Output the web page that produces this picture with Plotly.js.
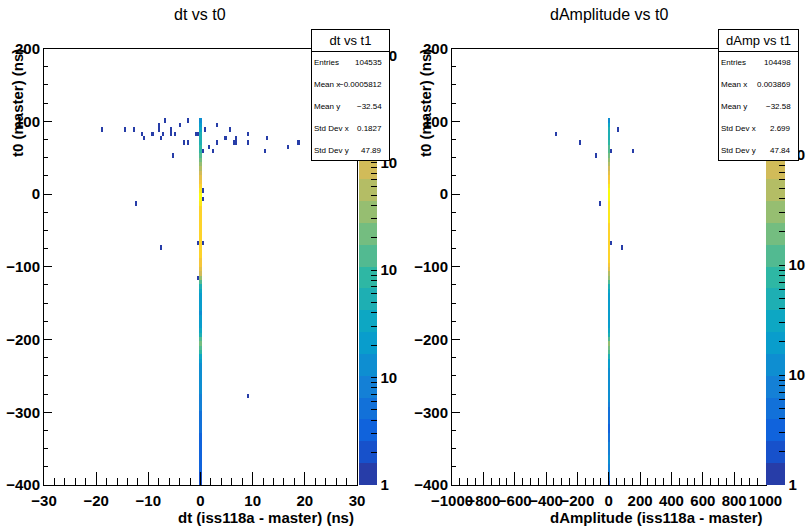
<!DOCTYPE html>
<html><head><meta charset="utf-8">
<script src="https://cdn.plot.ly/plotly-3.0.1.min.js"></script>
<style>html,body{margin:0;padding:0;background:#fff}#plot{width:808px;height:527px}</style>
</head><body><div id="plot"></div><script>
// ---------- DATA ----------
// y bin centres of the central column start at 101 and step down by 6 ns
const columnTopY = 101;
const dtColumnCounts = [15,25,35,45,50,60,70,90,120,200,
  300,700,1100,1500,2200,4000,7000,11700,9000,5500,
  4500,4300,4000,3800,3700,3500,3500,3400,3300,3200,
  3100,2900,2700,2400,1500,900,300,120,60,30,
  22,20,18,18,16,18,20,25,30,60,
  120,180,150,80,30,20,16,15,14,13,
  12,12,11,10,9,8,7,6,6,5,
  5,5,4,4,4,4,3,3,3,3,
  3,2,2,2];
const dampColumnCounts = [12,30,40,50,60,80,100,130,200,300,
  450,900,1300,1800,2500,5000,8000,9400,7000,5000,
  4500,4200,4000,3800,3600,3500,3400,3300,3200,3100,
  3000,2800,2500,2200,1300,600,250,120,60,30,
  22,20,18,17,16,17,18,20,25,50,
  150,250,200,120,40,20,16,15,14,13,
  12,12,11,10,10,9,6,5,4,4,
  3,3,4,5,7,8,9,10,10,9,
  9,8,4,2];
// isolated entries
const dtOutX = [-18.8,-14.4,-12.8,-11.2,-10.8,-9.2,-8.0,-8.0,-7.6,-7.2,-6.8,-5.6,-5.6,-5.2,-4.8,-4.0,-3.2,-2.4,-2.4,-0.8,-0.4,
  0.8,0.4,1.6,2.4,3.2,3.2,4.8,5.6,6.8,6.4,6.8,9.2,9.2,12.8,12.4,16.8,18.8,
  -12.4,-7.6,-0.4,0.4,0.4,0.4,-0.4,9.2];
const dtOutY = [89,89,89,83,77,83,95,89,77,83,101,89,83,53,83,95,71,71,101,83,83,
  89,59,65,59,95,71,77,89,77,71,71,83,71,77,59,65,71,
  -13,-71,-67,-67,5,-7,-115,-277];
const dtOutN = [1,1,1,1,1,1,1,1,1,1,1,1,1,1,1,1,1,1,1,1,1,
  1,1,1,1,1,1,1,1,1,1,1,1,1,1,1,1,1,
  1,1,1,1,1,1,1,1];
const dampOutX = [-337.5,-175,-87.5,62.5,14,150,-62.5,14,87.5];
const dampOutY = [83,71,53,89,59,59,-13,-67,-71];
const dampOutN = [1,1,1,1,1,1,1,1,1];
const dtStats = [["Entries","104535"],["Mean x","\u22120.0005812"],["Mean y","\u221232.54"],["Std Dev x","0.1827"],["Std Dev y","47.89"]];
const dampStats = [["Entries","104498"],["Mean x","0.003869"],["Mean y","\u221232.58"],["Std Dev x","2.699"],["Std Dev y","47.84"]];
const dtMax = 11700, dampMax = 9400;

// ---------- BINNING ----------
const W = 808, H = 527;
const X = p => p / W, Y = p => 1 - p / H;
function centres(a, b, step){ const r=[]; const n=Math.round((b-a)/step); for(let i=0;i<=n;i++) r.push(+(a+i*step).toFixed(4)); return r; }
const yC = centres(-397, 197, 6);
const dtXC = centres(-30, 30, 0.4);
const dampXC = centres(-994, 994, 14);

function buildZ(xc, colCounts, ox, oy, on){
  const z = yC.map(() => xc.map(() => null));
  const xi = v => { let best=0; xc.forEach((c,i)=>{ if(Math.abs(c-v)<Math.abs(xc[best]-v)) best=i; }); return best; };
  const yi = v => { let best=0; yC.forEach((c,i)=>{ if(Math.abs(c-v)<Math.abs(yC[best]-v)) best=i; }); return best; };
  const x0 = xi(0);
  colCounts.forEach((n,k) => { z[yi(columnTopY - 6*k)][x0] = Math.log10(n); });
  ox.forEach((v,k) => { z[yi(oy[k])][xi(v)] = Math.log10(on[k]); });
  return z;
}

// ROOT kBird palette
const birdStops = [[0.0,[0.2082,0.1664,0.5293]],[0.125,[0.0592,0.3599,0.8684]],[0.25,[0.0780,0.5041,0.8385]],
  [0.375,[0.0232,0.6419,0.7914]],[0.5,[0.1802,0.7178,0.6425]],[0.625,[0.5301,0.7492,0.4662]],
  [0.75,[0.8186,0.7328,0.3499]],[0.875,[0.9956,0.7862,0.1968]],[1.0,[0.9764,0.9832,0.0539]]];
function bird(f){
  for(let i=0;i<birdStops.length-1;i++){
    const [a,ca]=birdStops[i],[b,cb]=birdStops[i+1];
    if(f>=a && f<=b){ const t=(f-a)/(b-a); const c=ca.map((v,j)=>Math.round(255*(v+(cb[j]-v)*t))); return `rgb(${c[0]},${c[1]},${c[2]})`; }
  }
  return 'rgb(249,251,14)';
}
const nLev = 20, cs = [];
for(let c=0;c<nLev;c++){ const col = bird(Math.floor((c+0.99)*255/nLev)/254); cs.push([c/nLev,col]); cs.push([(c+1)/nLev,col]); }

function cbTicks(max){
  const v=[], t=[];
  for(let d=0; d<=Math.floor(max); d++){
    for(let m=1;m<=9;m++){ const l=d+Math.log10(m); if(l<=max+1e-9){ v.push(l); t.push(m===1 ? (d===0?'1':'10') : ''); } }
  }
  return {v,t};
}

const FONT = "Liberation Sans, Arial, Helvetica, sans-serif";
const bold15 = {family: FONT, size: 15, color: '#000', weight: 'bold'};

function mkCb(xpx, thick, max){
  const tk = cbTicks(max);
  return {x: X(xpx), xanchor: 'left', xpad: 0, ypad: 0, thickness: thick, thicknessmode: 'pixels',
    len: (485-48.5)/H, lenmode: 'fraction', y: Y(485), yanchor: 'bottom',
    outlinewidth: 0, ticks: 'inside', ticklen: 6, tickcolor: '#000', tickwidth: 1,
    tickmode: 'array', tickvals: tk.v, ticktext: tk.t, tickfont: bold15, ticklabelpad: 2};
}

const traces = [
  {type:'heatmap', x: dtXC, y: yC, z: buildZ(dtXC, dtColumnCounts, dtOutX, dtOutY, dtOutN),
   zmin: 0, zmax: Math.log10(dtMax), colorscale: cs, zsmooth: false, hoverinfo: 'skip',
   xaxis: 'x', yaxis: 'y', colorbar: mkCb(359, 18, Math.log10(dtMax))},
  {type:'heatmap', x: dampXC, y: yC, z: buildZ(dampXC, dampColumnCounts, dampOutX, dampOutY, dampOutN),
   zmin: 0, zmax: Math.log10(dampMax), colorscale: cs, zsmooth: false, hoverinfo: 'skip',
   xaxis: 'x2', yaxis: 'y2', colorbar: mkCb(766, 19, Math.log10(dampMax))}
];

function xAx(domain, range, dtick, minor){
  return {domain, range, dtick, tick0: 0, tickmode: 'linear', ticks: 'inside', ticklen: 13, tickcolor: '#000',
    minor: {dtick: minor, ticks: 'inside', ticklen: 7, tickcolor: '#000'},
    showline: true, mirror: true, linecolor: '#000', linewidth: 1, showgrid: false, zeroline: false,
    tickfont: bold15, tickangle: 0, ticklabelstandoff: 2, fixedrange: true};
}
function yAx(anchor){
  return {domain: [Y(485), Y(48.5)], range: [-400, 200], dtick: 100, tick0: 0, tickmode: 'linear', anchor,
    ticks: 'inside', ticklen: 8, tickcolor: '#000',
    minor: {dtick: 25, ticks: 'inside', ticklen: 4, tickcolor: '#000'},
    showline: true, mirror: true, linecolor: '#000', linewidth: 1, showgrid: false, zeroline: false,
    tickfont: bold15, fixedrange: true};
}

const ann = [];
function txt(text, xpx, ypx, xa, ya, font, extra){ ann.push(Object.assign({text, x: X(xpx), y: Y(ypx), xref:'paper', yref:'paper', xanchor: xa, yanchor: ya, showarrow: false, font}, extra||{})); }
const reg16 = {family: FONT, size: 16, color: '#000'};
txt('dt vs t0', 200, 14, 'center', 'middle', reg16);
txt('dAmplitude vs t0', 609, 14, 'center', 'middle', reg16);
txt('dt (iss118a - master) (ns)', 356, 517, 'right', 'middle', bold15);
txt('dAmplitude (iss118a - master)', 765, 517, 'right', 'middle', bold15);
txt('t0 (master) (ns)', 17, 47, 'center', 'top', bold15, {textangle: -90});
txt('t0 (master) (ns)', 425, 47, 'center', 'top', bold15, {textangle: -90});

function statsBox(title, rows, left, right){
  const w = right - left;
  txt('\u00a0', left, 29, 'left', 'top', {family: FONT, size: 9}, {width: w-1, height: 130, bgcolor: '#fff', bordercolor: '#000', borderwidth: 1, borderpad: 0});
  txt(title, left, 29, 'left', 'top', {family: FONT, size: 13, color: '#000'}, {width: w-1, height: 21, bgcolor: '#fff', bordercolor: '#000', borderwidth: 1, borderpad: 0, align: 'center'});
  const ys = [62, 84, 106, 128, 150];
  rows.forEach((r,i) => {
    txt(r[0], left+1, ys[i], 'left', 'middle', {family: FONT, size: 8, color: '#000'});
    txt(r[1], right-5, ys[i], 'right', 'middle', {family: FONT, size: 8, color: '#000'});
  });
}
statsBox('dt vs t1', dtStats, 311, 389);
statsBox('dAmp vs t1', dampStats, 718, 798);

const layout = {
  width: W, height: H, margin: {l:0, r:0, t:0, b:0, autoexpand: false},
  paper_bgcolor: '#fff', plot_bgcolor: '#fff', showlegend: false,
  font: {family: FONT, color: '#000'},
  xaxis: xAx([X(44), X(357)], [-30, 30], 10, 2),
  yaxis: yAx('x'),
  xaxis2: xAx([X(452), X(765.5)], [-1000, 1000], 200, 50),
  yaxis2: yAx('x2'),
  annotations: ann
};
layout.xaxis.anchor = 'y'; layout.xaxis2.anchor = 'y2';
Plotly.newPlot('plot', traces, layout, {staticPlot: true, displayModeBar: false});
</script></body></html>
